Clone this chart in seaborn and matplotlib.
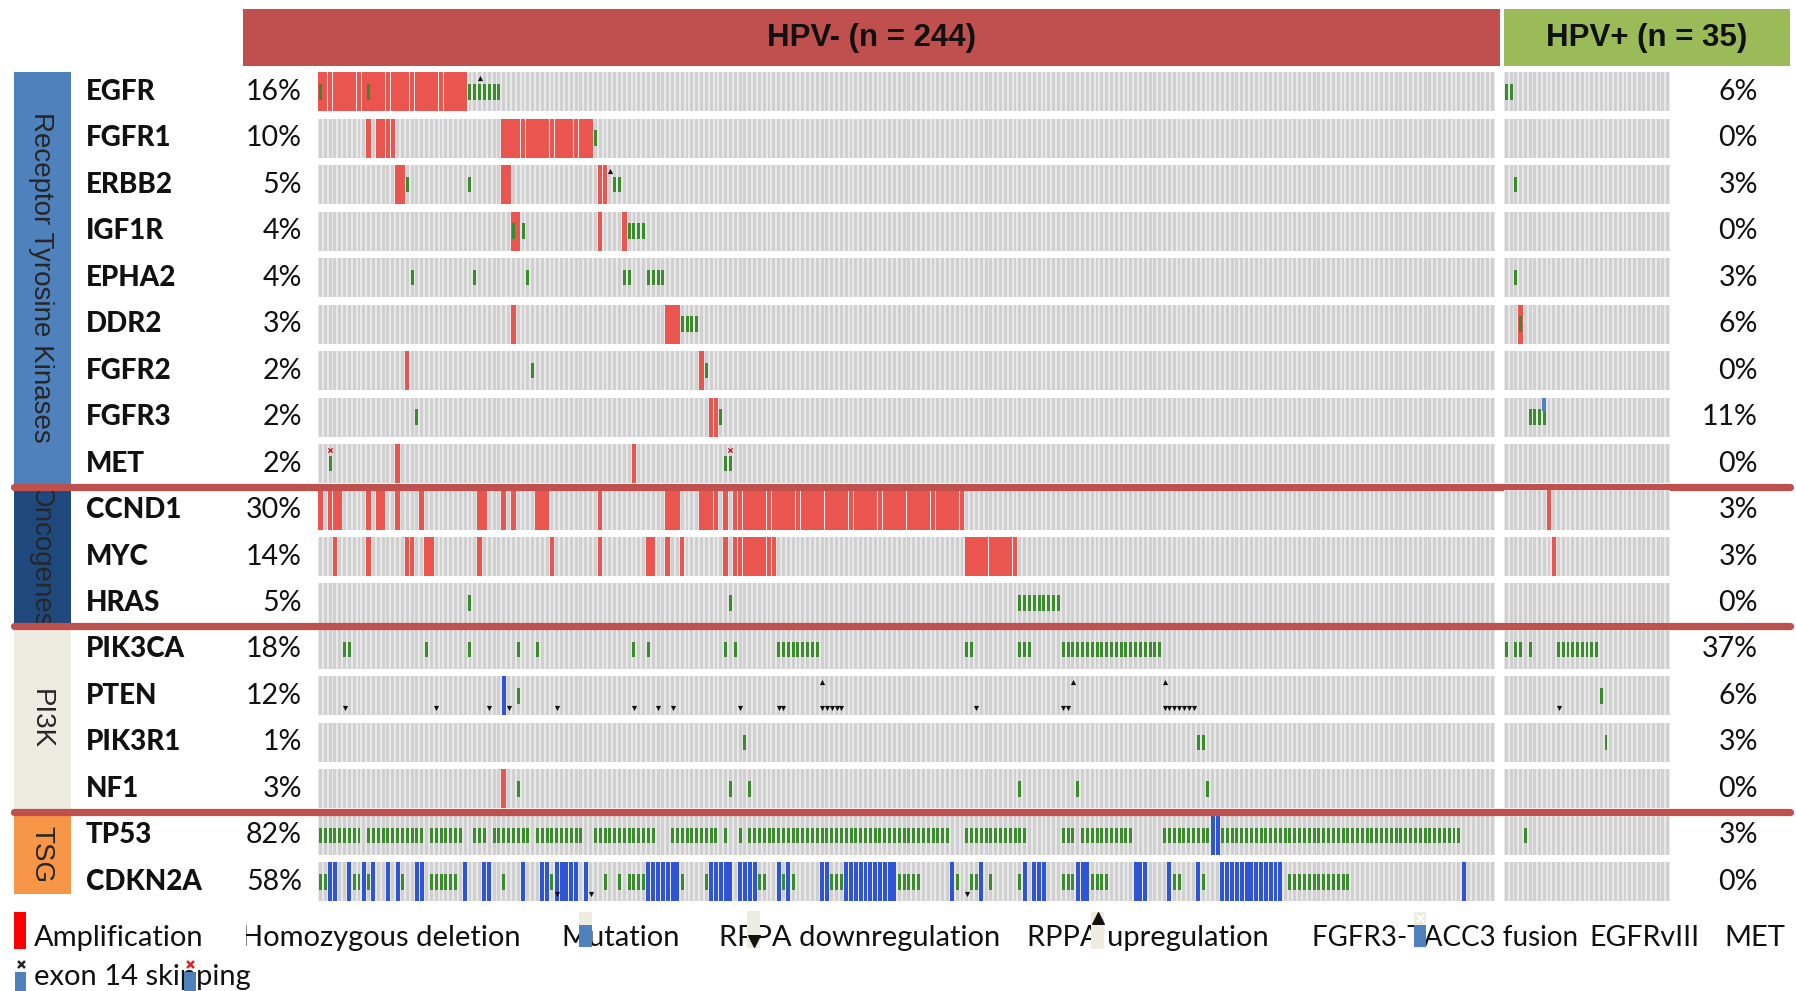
import numpy as np
import matplotlib
matplotlib.use("Agg")
import matplotlib.pyplot as plt
import matplotlib.transforms as mtransforms
from matplotlib.patches import Rectangle
import seaborn as sns

# ---------------- data ----------------
GENES = ["EGFR", "FGFR1", "ERBB2", "IGF1R", "EPHA2", "DDR2", "FGFR2", "FGFR3", "MET",
         "CCND1", "MYC", "HRAS", "PIK3CA", "PTEN", "PIK3R1", "NF1", "TP53", "CDKN2A"]
PCT_NEG = [16, 10, 5, 4, 4, 3, 2, 2, 2, 30, 14, 5, 18, 12, 1, 3, 82, 58]
PCT_POS = [6, 0, 3, 0, 3, 6, 0, 11, 0, 3, 3, 0, 37, 6, 3, 0, 3, 0]
CATEGORIES = ["Receptor Tyrosine Kinases", "Oncogenes", "PI3K", "TSG"]
CAT_SIZES = [9, 3, 4, 2]
CAT_COLORS = ["#4F81BD", "#1F497D", "#EEECE1", "#F79646"]
N_NEG, N_POS = 244, 35
GROUP_LABELS = ["HPV- (n = 244)", "HPV+ (n = 35)"]

# runs of samples: (first column, number of columns)
AMP_NEG = {
    "EGFR": [(0, 31)],
    "FGFR1": [(10, 1), (12, 4), (38, 19)],
    "ERBB2": [(16, 2), (38, 2), (58, 2)],
    "IGF1R": [(40, 2), (58, 1), (63, 1)],
    "DDR2": [(40, 1), (72, 3)],
    "FGFR2": [(18, 1), (79, 1)],
    "FGFR3": [(81, 2)],
    "MET": [(16, 1), (65, 1)],
    "CCND1": [(0, 1), (2, 3), (10, 1), (12, 2), (16, 1), (21, 1), (33, 2), (38, 1), (40, 1),
              (45, 3), (58, 1), (72, 3), (79, 4), (84, 1), (86, 48)],
    "MYC": [(3, 1), (10, 1), (18, 2), (22, 2), (33, 1), (48, 1), (58, 1), (68, 2), (72, 1),
            (75, 1), (84, 1), (86, 9), (134, 11)],
    "NF1": [(38, 1)],
}
DEL_NEG = {
    "PTEN": [(38, 1)],
    "TP53": [(185, 2)],
    "CDKN2A": [(2, 2), (6, 1), (9, 1), (11, 1), (14, 1), (16, 1), (20, 2), (30, 1), (34, 2),
               (42, 1), (46, 2), (49, 5), (55, 1), (68, 7), (81, 4), (85, 1), (87, 4), (95, 1),
               (97, 1), (104, 2), (109, 11), (131, 1), (137, 1), (146, 1), (148, 3), (157, 3),
               (169, 3), (176, 1), (182, 1), (187, 13), (237, 1)],
}
MUT_NEG = {
    "EGFR": [(0, 1), (10, 1), (31, 7)],
    "FGFR1": [(57, 1)],
    "ERBB2": [(18, 1), (31, 1), (61, 2)],
    "IGF1R": [(40, 1), (42, 1), (64, 4)],
    "EPHA2": [(19, 1), (32, 1), (43, 1), (63, 2), (68, 4)],
    "DDR2": [(75, 4)],
    "FGFR2": [(44, 1), (80, 1)],
    "FGFR3": [(20, 1), (83, 1)],
    "MET": [(2, 1), (84, 2)],
    "HRAS": [(31, 1), (85, 1), (145, 9)],
    "PIK3CA": [(5, 2), (22, 1), (31, 1), (41, 1), (45, 1), (65, 1), (68, 1), (84, 1), (86, 1),
               (95, 9), (134, 2), (145, 3), (154, 21)],
    "PTEN": [(41, 1)],
    "PIK3R1": [(88, 1), (182, 2)],
    "NF1": [(41, 1), (85, 1), (89, 1), (145, 1), (157, 1), (184, 1)],
    "TP53": [(0, 9), (10, 12), (23, 7), (32, 3), (36, 8), (45, 10), (57, 6), (63, 7), (73, 10),
             (84, 1), (87, 1), (89, 42), (134, 13), (154, 3), (158, 11), (175, 10), (187, 50)],
    "CDKN2A": [(0, 2), (7, 2), (10, 1), (17, 1), (23, 6), (38, 1), (48, 1), (59, 1), (62, 1),
               (64, 4), (75, 1), (80, 1), (91, 2), (96, 1), (98, 1), (106, 3), (120, 5),
               (132, 1), (135, 2), (139, 1), (145, 1), (154, 3), (160, 4), (177, 2), (183, 1),
               (201, 13)],
}
DOWN_NEG = {
    "PTEN": [(5, 1), (24, 1), (35, 1), (39, 1), (49, 1), (65, 1), (70, 1), (73, 1), (87, 1),
             (95, 2), (104, 5), (136, 1), (154, 2), (175, 7)],
    "CDKN2A": [(49, 1), (56, 1), (134, 1)],
}
UP_NEG = {
    "EGFR": [(33, 1)],
    "ERBB2": [(60, 1)],
    "PTEN": [(104, 1), (156, 1), (175, 1)],
}
SKIP_NEG = {"MET": [(2, 1), (85, 1)]}

AMP_POS = {"DDR2": [(3, 1)], "CCND1": [(9, 1)], "MYC": [(10, 1)]}
DEL_POS = {}
MUT_POS = {
    "EGFR": [(0, 2)], "ERBB2": [(2, 1)], "EPHA2": [(2, 1)], "DDR2": [(3, 1)],
    "FGFR3": [(5, 4)], "PIK3CA": [(0, 1), (2, 2), (5, 1), (11, 9)],
    "PTEN": [(20, 1)], "PIK3R1": [(21, 1)], "TP53": [(4, 1)],
}
DOWN_POS = {"PTEN": [(11, 1)]}
UP_POS = {}
SKIP_POS = {}
FUSION_POS = {"FGFR3": [(8, 1)]}

LEGEND_LINE1 = ["Amplification", "Homozygous deletion", "Mutation", "RPPA downregulation",
                "RPPA upregulation", "FGFR3-TACC3 fusion", "EGFRvIII", "MET"]
LEGEND_LINE2 = ["exon 14 skipping"]

# ---------------- style ----------------
sns.set_theme(style="white")
plt.rcParams['font.family'] = ['Lato', 'DejaVu Sans']

AMP_C = "#EA5550"
DEL_C = "#2F55D4"
MUT_C = "#3C8A2E"
SEP_C = "#C0504D"
CELL_BG = "#E8E8E8"
CELL_C = "#D0D0D0"

W, H = 1796, 991
fig = plt.figure(figsize=(W / 100, H / 100), dpi=100)
bg = fig.add_axes([0, 0, 1, 1])
bg.set_xlim(0, W)
bg.set_ylim(H, 0)
bg.axis("off")

ROW0, PITCH = 91.6, 46.49
NG = len(GENES)
top = ROW0 - PITCH / 2
bottom = ROW0 + (NG - 0.5) * PITCH


def fig_box(x0, x1, y0, y1):
    return [x0 / W, 1 - y1 / H, (x1 - x0) / W, (y1 - y0) / H]


X_NEG = (318, 1495)
X_POS = (1504, 1670)
ax_neg = fig.add_axes(fig_box(X_NEG[0], X_NEG[1], top, bottom))
ax_pos = fig.add_axes(fig_box(X_POS[0], X_POS[1], top, bottom))


def expand(runs):
    return [s + k for s, l in runs for k in range(l)]


CELL_H = 0.84


def draw_panel(ax, n, amp, dele, mut, down, up, skip, fusion=None):
    ax.set_xlim(-0.5, n - 0.5)
    ax.set_ylim(NG - 0.5, -0.5)
    ax.axis("off")
    cols = np.arange(n)
    for gi, g in enumerate(GENES):
        ax.barh(gi, n, left=-0.5, height=CELL_H, color=CELL_BG, linewidth=0)
        ax.bar(cols, CELL_H, bottom=gi - CELL_H / 2, width=0.6, color=CELL_C, linewidth=0)
        idx = expand(amp.get(g, []))
        if idx:
            ax.bar(idx, CELL_H, bottom=gi - CELL_H / 2, width=0.93, color=AMP_C, linewidth=0)
        idx = expand(dele.get(g, []))
        if idx:
            ax.bar(idx, CELL_H, bottom=gi - CELL_H / 2, width=0.82, color=DEL_C, linewidth=0)
        idx = expand(mut.get(g, []))
        if idx:
            ax.bar(idx, 0.34, bottom=gi - 0.17, width=0.62, color=MUT_C, linewidth=0)
        idx = expand(down.get(g, []))
        if idx:
            ax.scatter(idx, [gi + 0.25] * len(idx), marker="v", s=14, color="#111111",
                       linewidths=0, zorder=5)
        idx = expand(up.get(g, []))
        if idx:
            ax.scatter(idx, [gi - 0.3] * len(idx), marker="^", s=14, color="#111111",
                       linewidths=0, zorder=5)
        idx = expand(skip.get(g, []))
        if idx:
            ax.scatter(idx, [gi - 0.3] * len(idx), marker="x", s=10, color="#D02020",
                       linewidths=1, zorder=5)
        if fusion:
            idx = expand(fusion.get(g, []))
            if idx:
                ax.bar(idx, 0.3, bottom=gi - CELL_H / 2, width=0.8, color="#4F81BD",
                       linewidth=0, zorder=4)


draw_panel(ax_neg, N_NEG, AMP_NEG, DEL_NEG, MUT_NEG, DOWN_NEG, UP_NEG, SKIP_NEG)
draw_panel(ax_pos, N_POS, AMP_POS, DEL_POS, MUT_POS, DOWN_POS, UP_POS, SKIP_POS, FUSION_POS)

# section separators
span = X_NEG[1] - X_NEG[0]
bounds = np.cumsum(CAT_SIZES)[:-1]
for b in bounds:
    ax_neg.axhline(b - 0.5, xmin=(14 - X_NEG[0]) / span, xmax=(1790 - X_NEG[0]) / span,
                   color=SEP_C, lw=5.2, clip_on=False, zorder=10)

# header
bg.add_patch(Rectangle((243, 9), 1500 - 243, 57, color="#C0504D", lw=0))
bg.add_patch(Rectangle((1504, 9), 1790 - 1504, 57, color="#9BBB59", lw=0))
bg.text((243 + 1500) / 2, 38, GROUP_LABELS[0], ha="center", va="center",
        fontsize=22.5, fontweight="bold", family=["Liberation Sans", "DejaVu Sans"], color="#111111")
bg.text((1504 + 1790) / 2, 38, GROUP_LABELS[1], ha="center", va="center",
        fontsize=22.5, fontweight="bold", family=["Liberation Sans", "DejaVu Sans"], color="#111111")

# category boxes
trans = mtransforms.blended_transform_factory(bg.transData, ax_neg.transData)
start = 0
for cat, size, col in zip(CATEGORIES, CAT_SIZES, CAT_COLORS):
    y0 = start - 0.5 + 0.07
    y1 = start + size - 0.5 - 0.07
    if cat == "TSG":
        y1 = start + size - 0.5 - 0.25
    bg.add_patch(Rectangle((14, y0), 71 - 14, y1 - y0, color=col, lw=0, transform=trans))
    bg.text(41, (y0 + y1) / 2, cat, rotation=-90, ha="center", va="center", fontsize=20,
            family=["Liberation Sans", "DejaVu Sans"], color="#262626", transform=trans,
            zorder=3)
    start += size

# gene labels & percentages
for gi, g in enumerate(GENES):
    bg.text(86, gi, g, ha="left", va="center", fontsize=20, fontweight=900,
            color="#111111", transform=trans)
    bg.text(302, gi, f"{PCT_NEG[gi]}%", ha="right", va="center", fontsize=20.5,
            color="#111111", transform=trans)
    bg.text(1758, gi, f"{PCT_POS[gi]}%", ha="right", va="center", fontsize=20.5,
            color="#111111", transform=trans)

# legend
LX1 = [34, 241, 561, 719, 1027, 1312, 1589, 1724]
LSIZE1 = [21, 21, 21, 21, 21, 20, 20.5, 21]
for txt, x, fs in zip(LEGEND_LINE1, LX1, LSIZE1):
    bg.text(x, 938, txt, ha="left", va="center", fontsize=fs, color="#111111")
bg.text(34, 977, LEGEND_LINE2[0], ha="left", va="center", fontsize=21, color="#111111")

# legend icons
BEIGE = "#EEECE1"
bg.add_patch(Rectangle((14, 912), 12, 37, color="#FF0000", lw=0, zorder=5))
bg.add_patch(Rectangle((238, 912), 8, 37, color="white", lw=0, zorder=5))
bg.add_patch(Rectangle((579, 912), 13, 13, color=BEIGE, lw=0, zorder=5))
bg.add_patch(Rectangle((579, 925), 13, 22, color="#4F81BD", lw=0, zorder=5))
bg.add_patch(Rectangle((747, 911), 13, 37, color=BEIGE, lw=0, zorder=5))
bg.scatter([753.5], [941], marker="v", s=70, color="#111111", zorder=6)
bg.add_patch(Rectangle((1091, 912), 13, 37, color=BEIGE, lw=0, zorder=5))
bg.scatter([1097.5], [918], marker="^", s=70, color="#111111", zorder=6)
bg.add_patch(Rectangle((1414, 912), 12, 36, color=BEIGE, lw=0, zorder=5))
bg.add_patch(Rectangle((1414, 925), 12, 22, color="#4F81BD", lw=0, zorder=6))
bg.scatter([1420], [918], marker="x", s=25, color="white", linewidths=1.5, zorder=7)
bg.add_patch(Rectangle((15, 972), 11, 19, color="#4F81BD", lw=0, zorder=5))
bg.scatter([20.5], [964], marker="x", s=25, color="#222222", linewidths=1.8, zorder=7)
bg.add_patch(Rectangle((184, 972), 12, 19, color="#4F81BD", lw=0, zorder=5))
bg.scatter([190], [964], marker="x", s=25, color="#E02020", linewidths=1.8, zorder=7)

fig.savefig("out.png", dpi=100)
